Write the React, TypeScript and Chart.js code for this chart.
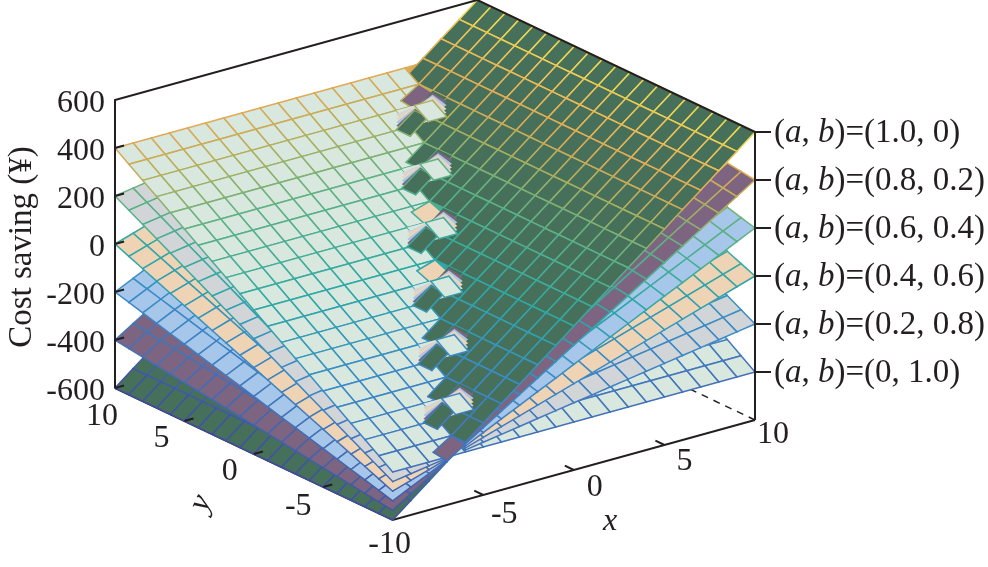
import React, { useEffect, useRef } from "react";
import { Chart, registerables } from "chart.js";

Chart.register(...registerables);

// ---- data ----
const gridX = [-10, -9, -8, -7, -6, -5, -4, -3, -2, -1, 0, 1, 2, 3, 4, 5, 6, 7, 8, 9, 10];
const gridY = [-10, -9, -8, -7, -6, -5, -4, -3, -2, -1, 0, 1, 2, 3, 4, 5, 6, 7, 8, 9, 10];
const savingAlongX = [-600, -540, -480, -420, -360, -300, -240, -180, -120, -60, 0, 60, 120, 180, 240, 300, 360, 420, 480, 540, 600];
const savingAlongY = [-400, -360, -320, -280, -240, -200, -160, -120, -80, -40, 0, 40, 80, 120, 160, 200, 240, 280, 320, 360, 400];
const weightA = [1.0, 0.8, 0.6, 0.4, 0.2, 0];
const weightB = [0, 0.2, 0.4, 0.6, 0.8, 1.0];
const endZ = [600, 400, 200, 0, -200, -400];
const pairLabels = ["1.0, 0", "0.8, 0.2", "0.6, 0.4", "0.4, 0.6", "0.2, 0.8", "0, 1.0"];
const surfaceFills = ["#47705a", "#7d6480", "#a7c7ea", "#eed4b4", "#d2d5d8", "#d9e8df"];

// The seam where the six surfaces cross: grid nodes (x, y) where they all meet,
// and which surface shows on top in the cell just below each node.
const seamNodesX = [6, 4, 2, 0, -2, -4, -6];
const seamNodesY = [9, 6, 3, 0, -3, -6, -9];
const seamTopSurface = [1, 0, 3, 3, 0, 0, 1];

const zTicks = [600, 400, 200, 0, -200, -400, -600];
const zTickLabels = ["600", "400", "200", "0", "-200", "-400", "-600"];
const xTicks = [-5, 0, 5, 10];
const xTickLabels = ["-5", "0", "5", "10"];
const xLabelOffsets = [[21, 20], [21, 18], [20, 17], [18, 15]];
const yTicks = [10, 5, 0, -5, -10];
const yTickLabels = ["10", "5", "0", "-5", "-10"];
const yLabelOffsets = [[-13, 29], [-23, 18], [-24, 18], [-25, 20], [-3, 25]];
const meshStopsZ = [-600, -400, -200, 0, 200, 300, 400, 500, 600];
const meshStopsRGB = [
  [63, 79, 159], [68, 114, 184], [59, 139, 200], [47, 169, 166],
  [98, 178, 131], [168, 176, 96], [224, 170, 85], [236, 192, 88], [240, 224, 80],
];

// ---- the view of the 3-D box (orthographic) ----
const ORIGIN = { x: 392.7, y: 520 };            // x=-10, y=-10, z=-600
const X_STEP = { x: 18.115, y: -5.0 };          // per unit of x
const Y_STEP = { x: -13.885, y: -6.6 };         // per unit of y
const Z_STEP = 0.24;                            // upward, per unit of z
const INK = "#231f20";
const SERIF = '"Liberation Serif"';
const FONT_SIZE = 32;
const LABEL_SIZE = 33;

function project(x: number, y: number, z: number) {
  const dx = x + 10, dy = y + 10, dz = z + 600;
  return {
    x: ORIGIN.x + dx * X_STEP.x + dy * Y_STEP.x,
    y: ORIGIN.y + dx * X_STEP.y + dy * Y_STEP.y - dz * Z_STEP,
    z,
  };
}
const depth = (x: number, y: number, z: number) => -10 * x - 13 * y + 0.1575 * z;

function meshColor(z: number) {
  let i = 0;
  while (i < meshStopsZ.length - 2 && z > meshStopsZ[i + 1]) i++;
  const t = Math.min(1, Math.max(0, (z - meshStopsZ[i]) / (meshStopsZ[i + 1] - meshStopsZ[i])));
  const c = meshStopsRGB[i].map((v, k) => Math.round(v + (meshStopsRGB[i + 1][k] - v) * t));
  return `rgb(${c[0]},${c[1]},${c[2]})`;
}

const zAt = (s: number, i: number, j: number) => weightA[s] * savingAlongX[i] + weightB[s] * savingAlongY[j];

function quadDataset(s: number, i: number, j: number, withMesh = true) {
  const corners = [[i, j], [i + 1, j], [i + 1, j + 1], [i, j + 1], [i, j]];
  const data = corners.map(([p, q]) => project(gridX[p], gridY[q], zAt(s, p, q)));
  if (!withMesh) {
    return { data, quadFill: surfaceFills[s], showLine: false, pointRadius: 0, clip: false };
  }
  return {
    data,
    quadFill: surfaceFills[s],
    showLine: true,
    borderWidth: 1.5,
    borderColor: meshColor(data[0].z),
    borderJoinStyle: "round",
    borderCapStyle: "round",
    pointRadius: 0,
    clip: false,
    segment: {
      borderColor: (ctx: any) => meshColor((data[ctx.p0DataIndex].z + data[ctx.p1DataIndex].z) / 2),
    },
  };
}

// all cells, nearest first (dataset 0 is painted last)
function buildQuads() {
  const quads: any[] = [];
  weightA.forEach((_a, s) => {
    for (let i = 0; i < gridX.length - 1; i++) {
      for (let j = 0; j < gridY.length - 1; j++) {
        const cx = (gridX[i] + gridX[i + 1]) / 2;
        const cy = (gridY[j] + gridY[j + 1]) / 2;
        const cz = (zAt(s, i, j) + zAt(s, i + 1, j) + zAt(s, i + 1, j + 1) + zAt(s, i, j + 1)) / 4;
        quads.push({ s, i, j, d: depth(cx, cy, cz) });
      }
    }
  });
  quads.sort((p, q) => q.d - p.d);
  return quads.map((q) => quadDataset(q.s, q.i, q.j));
}

// the saw-tooth of the seam: cells beside each crossing node, in the reference's stacking
function buildSeam() {
  const painted: any[] = []; // painted in this order, so it is reversed for Chart.js
  const surfaces = weightA.map((_a, s) => s);
  const last = surfaces.length - 1;
  const inGrid = (i: number, j: number) => i >= 0 && j >= 0 && i < gridX.length - 1 && j < gridY.length - 1;
  seamNodesX.forEach((nx, n) => {
    const i0 = gridX.indexOf(nx);
    const j0 = gridY.indexOf(seamNodesY[n]);
    // dark tooth to the left of the seam: pale first, darkest on top with its mesh
    if (inGrid(i0, j0 + 1)) {
      [...surfaces].reverse().forEach((s) => painted.push(quadDataset(s, i0, j0 + 1, s === 0)));
    }
    // pale notch to the right of the seam: darkest first, pale on top with its mesh
    if (inGrid(i0 + 1, j0 + 1)) {
      surfaces.forEach((s) => painted.push(quadDataset(s, i0 + 1, j0 + 1, s === last)));
    }
    if (inGrid(i0 - 1, j0 - 1)) {
      painted.push(quadDataset(seamTopSurface[n], i0 - 1, j0 - 1));
    }
  });
  return painted.reverse();
}

function axisLine(points: { x: number; y: number }[], dash: number[] = [], width = 2) {
  return {
    data: points,
    showLine: true,
    borderColor: INK,
    borderWidth: width,
    borderDash: dash,
    pointRadius: 0,
    clip: false,
  };
}

function buildFrontAxes() {
  const sets = [
    axisLine([project(10, -10, -600), project(10, 10, -600)], [7, 6], 1.4),
    axisLine([project(-10, 10, -600), project(-10, -10, -600), project(10, -10, -600)]),
  ];
  xTicks.slice(0, 3).forEach((x) => sets.push(axisLine([project(x, -10, -600), project(x, -9.35, -600)])));
  return sets;
}

function buildBackAxes() {
  const sets = [
    axisLine([project(-10, 10, -600), project(-10, 10, 600), project(10, 10, 600), project(10, -10, 600), project(10, -10, -600)]),
  ];
  zTicks.slice(1).forEach((z) => sets.push(axisLine([project(-10, 10, z), project(-9.5, 10, z)])));
  yTicks.slice(1, 4).forEach((y) => sets.push(axisLine([project(-10, y, -600), project(-9.5, y, -600)])));
  endZ.forEach((z) => {
    const p = project(10, -10, z);
    sets.push(axisLine([p, { x: p.x + 16, y: p.y }]));
  });
  return sets;
}

const quadFillPlugin = {
  id: "quadFill",
  beforeDatasetDraw(chart: any, args: any) {
    const ds = chart.data.datasets[args.index];
    if (!ds.quadFill) return;
    const pts = args.meta.data;
    const ctx = chart.ctx;
    ctx.save();
    ctx.beginPath();
    pts.forEach((p: any, i: number) => (i ? ctx.lineTo(p.x, p.y) : ctx.moveTo(p.x, p.y)));
    ctx.closePath();
    ctx.fillStyle = ds.quadFill;
    ctx.fill();
    ctx.restore();
  },
};

const textPlugin = {
  id: "boxText",
  afterDraw(chart: any) {
    const { ctx, scales } = chart;
    const px = (p: { x: number; y: number }) => ({ x: scales.x.getPixelForValue(p.x), y: scales.y.getPixelForValue(p.y) });
    const put = (t: string, x: number, y: number, align: CanvasTextAlign = "center") => {
      ctx.textAlign = align;
      ctx.fillText(t, x, y);
    };
    ctx.save();
    ctx.fillStyle = INK;
    ctx.textBaseline = "middle";
    ctx.font = `${FONT_SIZE}px ${SERIF}`;
    zTicks.forEach((z, i) => {
      const p = px(project(-10, 10, z));
      put(zTickLabels[i], p.x - 10, p.y + 4, "right");
    });
    xTicks.forEach((x, i) => {
      const p = px(project(x, -10, -600));
      put(xTickLabels[i], p.x + xLabelOffsets[i][0], p.y + xLabelOffsets[i][1]);
    });
    yTicks.forEach((y, i) => {
      const p = px(project(-10, y, -600));
      put(yTickLabels[i], p.x + yLabelOffsets[i][0], p.y + yLabelOffsets[i][1]);
    });
    // right-hand labels with italic a, b
    endZ.forEach((z, i) => {
      const p = px(project(10, -10, z));
      let x = p.x + 19;
      const parts: [string, boolean][] = [["(", false], ["a", true], [", ", false], ["b", true], [`)=(${pairLabels[i]})`, false]];
      ctx.textAlign = "left";
      parts.forEach(([t, it]) => {
        ctx.font = `${it ? "italic " : ""}${LABEL_SIZE}px ${SERIF}`;
        ctx.fillText(t, x, p.y + 1);
        x += ctx.measureText(t).width;
      });
    });
    // axis titles
    ctx.font = `${LABEL_SIZE}px ${SERIF}`;
    ctx.save();
    ctx.translate(22, 247);
    ctx.rotate(-Math.PI / 2);
    put("Cost saving (\u00a5)", 0, 0);
    ctx.restore();
    ctx.font = `italic ${FONT_SIZE}px ${SERIF}`;
    ctx.save();
    ctx.translate(201, 503);
    ctx.rotate(-1.15);
    put("y", 0, 0);
    ctx.restore();
    put("x", 610, 522);
    ctx.restore();
  },
};

export default function App() {
  const ref = useRef<HTMLCanvasElement>(null);
  useEffect(() => {
    const datasets: any[] = [...buildBackAxes(), ...buildSeam(), ...buildQuads(), ...buildFrontAxes()];
    const chart = new Chart(ref.current as HTMLCanvasElement, {
      type: "scatter",
      data: { datasets },
      options: {
        animation: false,
        responsive: false,
        events: [],
        layout: { padding: 0 },
        elements: { line: { tension: 0 } },
        plugins: { legend: { display: false }, tooltip: { enabled: false }, title: { display: false } },
        scales: {
          x: { type: "linear", display: false, min: 0, max: 988 },
          y: { type: "linear", display: false, min: 0, max: 567, reverse: true },
        },
      },
      plugins: [quadFillPlugin, textPlugin],
    } as any);
    return () => chart.destroy();
  }, []);
  return (
    <div style={{ position: "absolute", left: 0, top: 0, width: 988, height: 567, background: "#fff" }}>
      <canvas ref={ref} width={988} height={567} style={{ display: "block" }} />
    </div>
  );
}
